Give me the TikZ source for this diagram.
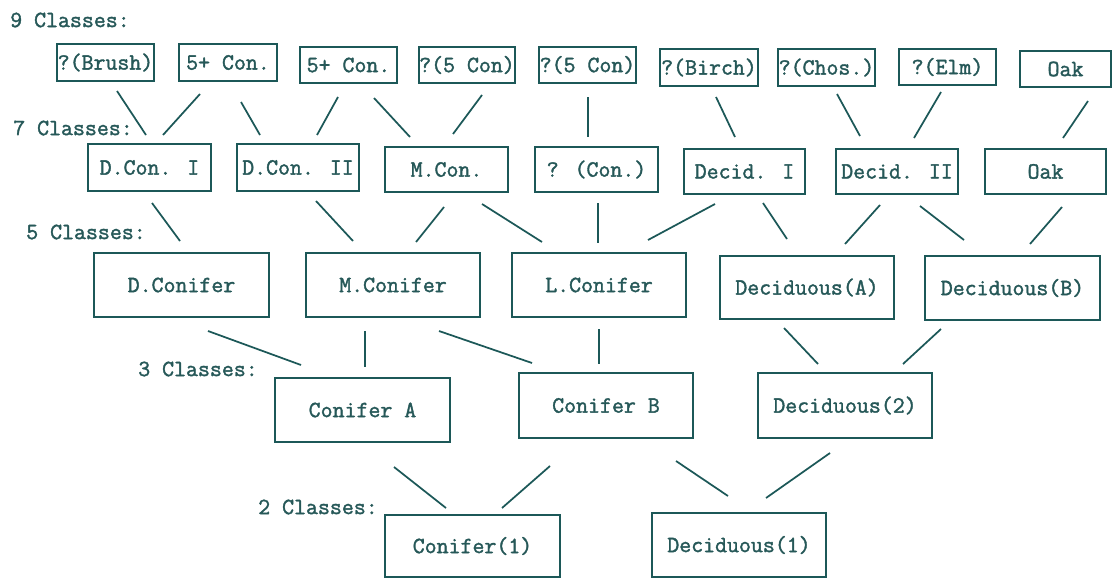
\documentclass[tikz,border=0pt]{standalone}
\usepackage{fontspec}
\newfontfamily\courf[FakeBold=1.6]{Latin Modern Mono}
\definecolor{linecol}{RGB}{28,88,88}
\definecolor{txtcol}{RGB}{38,88,88}
\tikzset{
  box/.style={draw=linecol, line width=1.3pt, inner sep=0pt, text=txtcol,
    font=\courf\fontsize{17.4}{20}\selectfont},
  lvl/.style={anchor=west, inner sep=0pt, text=txtcol,
    font=\courf\fontsize{17.4}{20}\selectfont},
  link/.style={draw=linecol, line width=1.3pt}
}
\newcommand\bx[6]{%
  \pgfmathsetmacro\tmpcx{(#2+#4)/2}%
  \pgfmathsetmacro\tmpcy{(#3+#5)/2}%
  \expandafter\xdef\csname bxcx#1\endcsname{\tmpcx}%
  \expandafter\xdef\csname bxcy#1\endcsname{\tmpcy}%
  \node[box, minimum width={(#4-#2)*0.75pt}, minimum height={(#5-#3)*0.75pt}] (#1) at (\tmpcx,\tmpcy) {#6};%
}
\newcommand\lk[6]{%
  \draw[link] ([shift={({#2-\csname bxcx#1\endcsname},{#3-\csname bxcy#1\endcsname})}]#1.center) --
    ([shift={({#5-\csname bxcx#4\endcsname},{#6-\csname bxcy#4\endcsname})}]#4.center);%
}
\begin{document}
\begin{tikzpicture}[x=0.75pt, y=-0.75pt]
\useasboundingbox[fill=white] (0,0) rectangle (1112,578);
% level labels
\node[lvl] (l9) at (10,20) {9 Classes:};
\node[lvl] (l7) at (13,128) {7 Classes:};
\node[lvl] (l5) at (26,232) {5 Classes:};
\node[lvl] (l3) at (138,369) {3 Classes:};
\node[lvl] (l2) at (258,507) {2 Classes:};
% 9 classes
\bx{n9a}{57}{44}{154}{81}{?(Brush)}
\bx{n9b}{179}{44}{277}{81}{5+ Con.}
\bx{n9c}{300}{47}{397}{83}{5+ Con.}
\bx{n9d}{419}{47}{515}{83}{?(5 Con)}
\bx{n9e}{539}{47}{636}{83}{?(5 Con)}
\bx{n9f}{660}{49}{758}{86}{?(Birch)}
\bx{n9g}{778}{49}{875}{86}{?(Chos.)}
\bx{n9h}{899}{49}{996}{85}{?(Elm)}
\bx{n9i}{1020}{51}{1111}{87}{Oak}
% 7 classes
\bx{n7a}{88}{144}{211}{191}{D.Con. I}
\bx{n7b}{237}{144}{359}{191}{D.Con. II}
\bx{n7c}{385}{147}{508}{192}{M.Con.}
\bx{n7d}{535}{147}{658}{192}{? (Con.)}
\bx{n7e}{684}{149}{805}{194}{Decid. I}
\bx{n7f}{836}{149}{958}{194}{Decid. II}
\bx{n7g}{985}{149}{1106}{194}{Oak}
% 5 classes
\bx{n5a}{94}{253}{269}{317}{D.Conifer}
\bx{n5b}{306}{253}{480}{317}{M.Conifer}
\bx{n5c}{512}{253}{686}{317}{L.Conifer}
\bx{n5d}{720}{256}{894}{319}{Deciduous(A)}
\bx{n5e}{925}{256}{1100}{320}{Deciduous(B)}
% 3 classes
\bx{n3a}{275}{378}{450}{442}{Conifer A}
\bx{n3b}{519}{373}{693}{438}{Conifer B}
\bx{n3c}{758}{373}{932}{438}{Deciduous(2)}
% 2 classes
\bx{n2a}{385}{515}{560}{577}{Conifer(1)}
\bx{n2b}{652}{513}{826}{577}{Deciduous(1)}
% connectors
\lk{n9a}{117}{91}{n7a}{146}{135}
\lk{n9b}{200}{94}{n7a}{163}{135}
\lk{n9b}{241}{102}{n7b}{260}{135}
\lk{n9c}{338}{97}{n7b}{317}{135}
\lk{n9c}{374}{98}{n7c}{410}{137}
\lk{n9d}{482}{95}{n7c}{453}{134}
\lk{n9e}{588}{97}{n7d}{588}{137}
\lk{n9f}{716}{97}{n7e}{735}{137}
\lk{n9g}{837}{94}{n7f}{860}{136}
\lk{n9h}{941}{92}{n7f}{914}{138}
\lk{n9i}{1088}{101}{n7g}{1063}{138}
\lk{n7a}{152}{203}{n5a}{180}{241}
\lk{n7b}{316}{201}{n5b}{353}{241}
\lk{n7c}{444}{207}{n5b}{416}{242}
\lk{n7c}{482}{204}{n5c}{542}{242}
\lk{n7d}{598}{203}{n5c}{598}{243}
\lk{n7e}{715}{204}{n5c}{648}{240}
\lk{n7e}{763}{203}{n5d}{787}{239}
\lk{n7f}{880}{205}{n5d}{845}{244}
\lk{n7f}{920}{206}{n5e}{964}{240}
\lk{n7g}{1062}{207}{n5e}{1030}{244}
\lk{n5a}{208}{331}{n3a}{301}{365}
\lk{n5b}{365}{331}{n3a}{365}{367}
\lk{n5b}{439}{331}{n3b}{532}{363}
\lk{n5c}{599}{329}{n3b}{599}{364}
\lk{n5d}{784}{328}{n3c}{818}{364}
\lk{n5e}{941}{329}{n3c}{903}{364}
\lk{n3a}{394}{467}{n2a}{446}{508}
\lk{n3b}{550}{466}{n2a}{502}{508}
\lk{n3b}{676}{461}{n2b}{728}{496}
\lk{n3c}{830}{453}{n2b}{766}{498}
\end{tikzpicture}
\end{document}
